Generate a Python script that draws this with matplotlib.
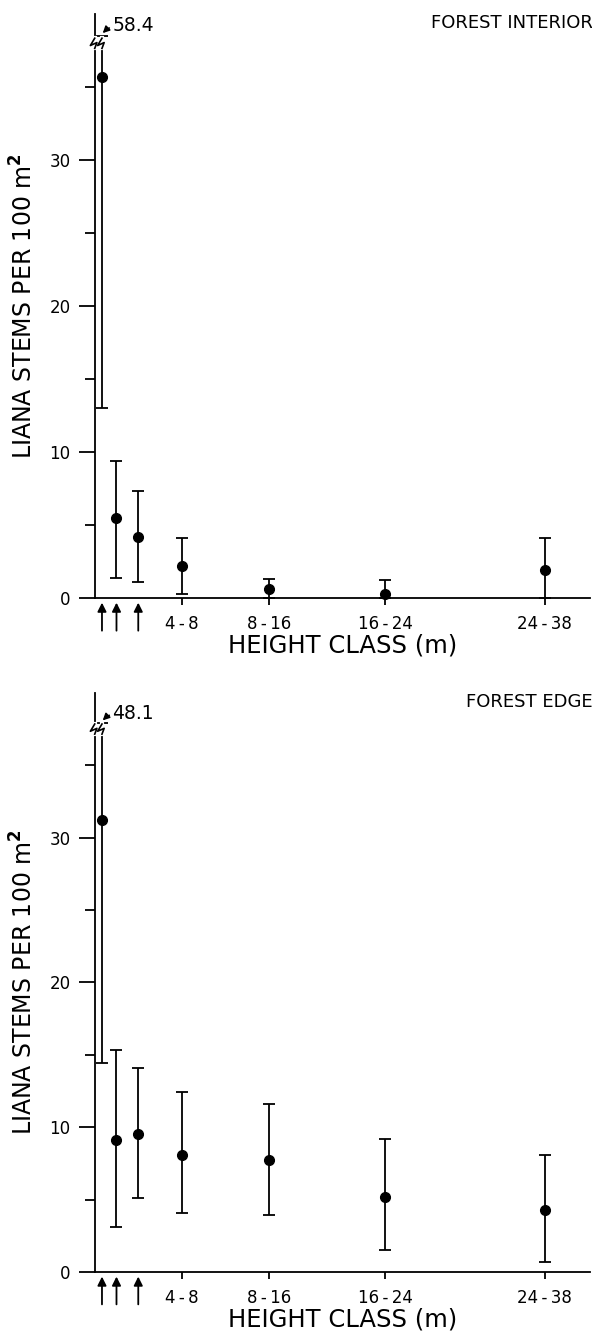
import numpy as np
import matplotlib
matplotlib.use("Agg")
import matplotlib.pyplot as plt

plt.rcParams['font.family'] = ['DejaVu Sans']

# height class midpoints (m); first three are the arrowed small classes
heights = [0.5, 1.5, 3, 6, 12, 20, 31]
tick_pos = [6, 12, 20, 31]
tick_labels = ['4\u2009-\u20098', '8\u2009-\u200916', '16\u2009-\u200924', '24\u2009-\u200938']
arrow_pos = [0.5, 1.5, 3]

# forest interior
int_mean = [35.7, 5.5, 4.2, 2.2, 0.6, 0.3, 1.9]
int_low = [13.0, 1.4, 1.1, 0.3, 0.0, 0.0, 0.0]
int_high = [58.4, 9.4, 7.3, 4.1, 1.3, 1.2, 4.1]

# forest edge
edge_mean = [31.2, 9.1, 9.5, 8.1, 7.7, 5.2, 4.3]
edge_low = [14.4, 3.1, 5.1, 4.1, 3.9, 1.5, 0.7]
edge_high = [48.1, 15.3, 14.1, 12.4, 11.6, 9.2, 8.1]


def draw_break(ax, x, y):
    # small zigzag where a line is broken
    ax.plot([x, x], [y - 0.35, y + 0.35], color='white', lw=3, clip_on=False, zorder=5)
    ax.plot([x, x - 0.3, x + 0.15, x], [y + 0.35, y - 0.15, y + 0.05, y - 0.35],
            color='black', lw=1.2, clip_on=False, zorder=6)


def panel(ax, mean, low, high, title, cap_y, brk_y, txt_y):
    mean = np.array(mean)
    low = np.array(low)
    high = np.array(high)
    shown_high = np.minimum(high, cap_y)
    lower_err = mean - low
    upper_err = shown_high - mean

    for i in range(len(heights)):
        ax.errorbar(heights[i], mean[i], yerr=[[lower_err[i]], [upper_err[i]]],
                    fmt='o', color='black', ms=7, elinewidth=1.3, capsize=4.5,
                    capthick=1.3, clip_on=False, zorder=3)

    ax.set_xlim(0, 34.1)
    ax.set_ylim(0, 40)
    ax.spines['top'].set_visible(False)
    ax.spines['right'].set_visible(False)
    for s in ['left', 'bottom']:
        ax.spines[s].set_linewidth(1.3)

    ax.set_yticks([0, 10, 20, 30])
    ax.set_yticks([5, 15, 25, 35], minor=True)
    ax.tick_params(axis='y', which='major', length=11.5, width=1.3, pad=6, labelsize=12)
    ax.tick_params(axis='y', which='minor', length=7, width=1.3)
    ax.set_xticks(tick_pos)
    ax.set_xticklabels(tick_labels)
    ax.tick_params(axis='x', which='major', length=5, width=1.3, pad=7, labelsize=12)

    for xp in arrow_pos:
        ax.annotate('', xy=(xp, -0.008), xycoords=('data', 'axes fraction'),
                    xytext=(xp, -0.056), textcoords=('data', 'axes fraction'),
                    arrowprops=dict(arrowstyle='-|>', color='black', lw=1.3,
                                    mutation_scale=13, shrinkA=0, shrinkB=0))

    ax.set_xlabel('HEIGHT CLASS (m)', fontsize=17.5)
    ax.xaxis.label.set_va('center')
    ax.xaxis.set_label_coords(0.5, -0.082)
    ax.set_ylabel('LIANA STEMS PER 100 m$^{\\mathbf{2}}$', fontsize=17)
    ax.yaxis.label.set_va('center')
    ax.yaxis.set_label_coords(-0.143, 0.5)

    ax.text(1.006, 1.0, title, transform=ax.transAxes, ha='right', va='top', fontsize=13)

    draw_break(ax, 0, brk_y)
    draw_break(ax, heights[0], brk_y)
    ax.annotate('%.1f' % high[0], xy=(heights[0] + 0.05, cap_y + 0.2),
                xytext=(1.2, txt_y), textcoords='data', va='center', fontsize=13.5,
                arrowprops=dict(arrowstyle='-|>', color='black', lw=1.1,
                                mutation_scale=10, shrinkA=0, shrinkB=0,
                                connectionstyle='arc3,rad=0.3'))


fig = plt.figure(figsize=(5.92, 13.33), dpi=100)
ax1 = fig.add_axes([0.160, 0.5514, 0.836, 0.438])
ax2 = fig.add_axes([0.160, 0.0458, 0.836, 0.4344])

panel(ax1, int_mean, int_low, int_high, 'FOREST INTERIOR', 38.5, 38.0, 39.2)
panel(ax2, edge_mean, edge_low, edge_high, 'FOREST EDGE', 37.9, 37.5, 38.6)

fig.savefig('out.png', dpi=100)
